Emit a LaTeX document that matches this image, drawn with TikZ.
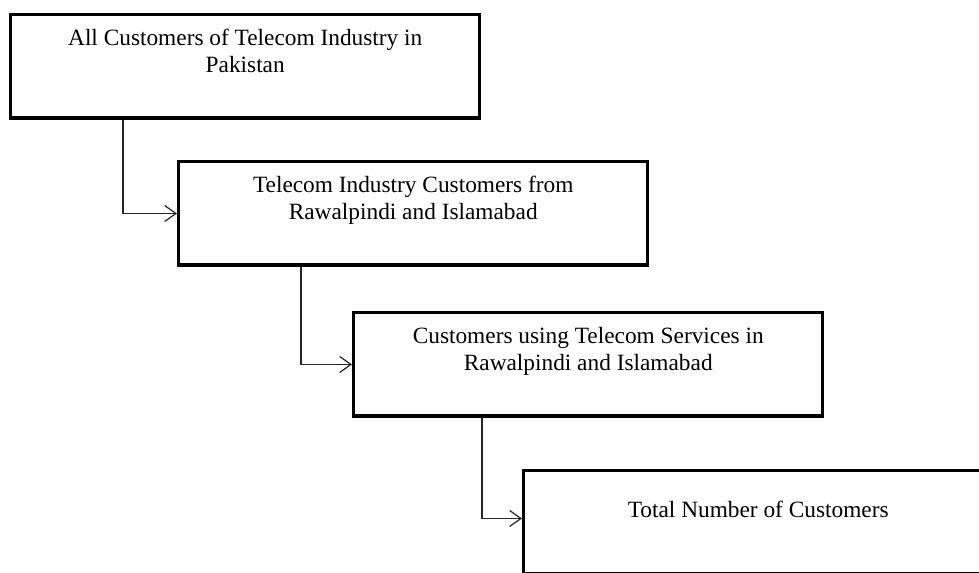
\documentclass[tikz,border=0pt]{standalone}
\usepackage{fontspec}
\setmainfont{Liberation Serif}
\usetikzlibrary{arrows.meta}

\newcommand{\stagetext}[2]{\parbox[t][77.6pt][t]{351.75pt}{\centering\vspace*{#1}#2}}

\begin{document}
\begin{tikzpicture}[x=0.75pt,y=-0.75pt,
  stagebox/.style={draw, line width=2.6pt, anchor=north west, inner sep=0pt,
    font=\fontsize{17.5}{20.25}\selectfont},
  flow/.style={line width=0.9pt, black!85, -{Straight Barb[length=8.5pt,width=12pt]}}]
\path[use as bounding box, clip] (0,0) rectangle (979,572);
%boxes
\node[stagebox] (all) at (9,13) {\stagetext{10.5pt}{All Customers of Telecom Industry in\\Pakistan}};
\node[stagebox] (city) at (177,160) {\stagetext{10.5pt}{Telecom Industry Customers from\\Rawalpindi and Islamabad}};
\node[stagebox] (users) at (352,311) {\stagetext{11pt}{Customers using Telecom Services in\\Rawalpindi and Islamabad}};
\node[stagebox] (total) at (522,469) {\stagetext{22.7pt}{Total Number of Customers}};
%connectors
\draw[flow] ([xshift=85.5pt]all.south west) |- (city.west);
\draw[flow] ([xshift=93pt]city.south west) |- (users.west);
\draw[flow] ([xshift=97.5pt]users.south west) |- ([yshift=3pt]total.west);
\end{tikzpicture}
\end{document}
